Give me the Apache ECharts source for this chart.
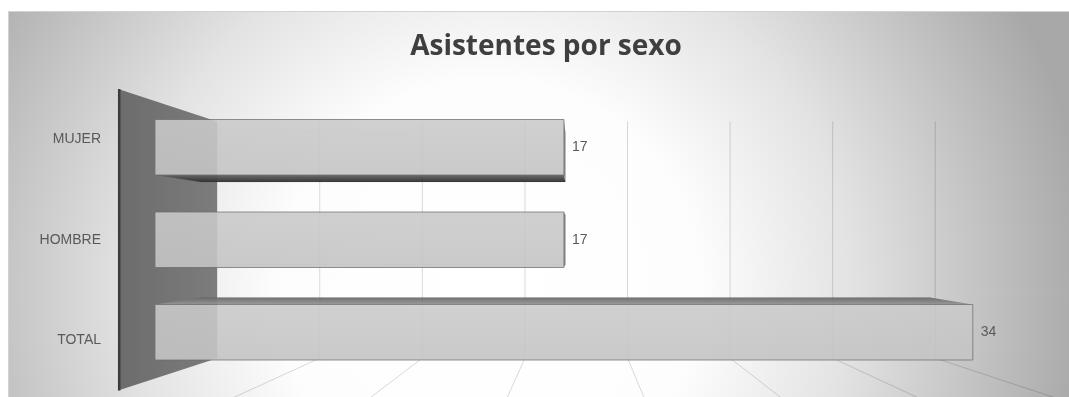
<!DOCTYPE html>
<html><head><meta charset="utf-8">
<script src="https://cdn.jsdelivr.net/npm/echarts@6/dist/echarts.min.js"></script>
<style>html,body{margin:0;padding:0;background:#fff}#c{width:1069px;height:397px}</style>
</head><body><div id="c"></div>
<script>
// ---- data ----
const titleText = 'Asistentes por sexo';
const categories = ['TOTAL', 'HOMBRE', 'MUJER'];
const values = [34, 17, 17];
const gridTicks = [0, 5, 10, 15, 20, 25, 30, 35];

// ---- perspective helpers (layout only) ----
const VP = [578, 240];
const S_WALL = 0.853, S_BAR_BACK = 0.892, S_FRONT = 1.087;
function proj(p, s) { return [VP[0] + (p[0] - VP[0]) * s, VP[1] + (p[1] - VP[1]) * s]; }

const chart = echarts.init(document.getElementById('c'), null, { renderer: 'canvas' });

function renderGrid(params, api) {
  const cs = params.coordSys;
  const t = api.value(0);
  const x = api.coord([t, 0])[0];
  const top = cs.y, bot = cs.y + cs.height;
  const bt = proj([x, top], S_WALL), bb = proj([x, bot], S_WALL);
  const ff = proj([x, bot], S_FRONT);
  const k = (402 - bb[1]) / (ff[1] - bb[1]);
  const end = [bb[0] + (ff[0] - bb[0]) * k, 402];
  const children = [];
  if (t === 0) {
    const ft = proj([x, top], S_FRONT);
    children.push({ type: 'polygon', shape: { points: [ft, bt, bb, ff] },
      style: { fill: new echarts.graphic.LinearGradient(0, 0, 1, 0, [
        { offset: 0, color: '#6c6c6c' }, { offset: 1, color: '#7c7c7c' }]) } });
    children.push({ type: 'line', shape: { x1: ft[0] + 1, y1: ft[1], x2: ff[0] + 1, y2: ff[1] },
      style: { stroke: '#3c3c3c', lineWidth: 2.5 } });
  } else {
    children.push({ type: 'line', shape: { x1: bt[0], y1: bt[1], x2: bb[0], y2: bb[1] },
      style: { stroke: 'rgba(0,0,0,0.15)', lineWidth: 1 } });
    children.push({ type: 'line', shape: { x1: bb[0], y1: bb[1], x2: end[0], y2: end[1] },
      style: { stroke: 'rgba(0,0,0,0.15)', lineWidth: 1 } });
  }
  return { type: 'group', children };
}

function renderBar(params, api) {
  const v = api.value(0), ci = api.value(1);
  const p0 = api.coord([0, ci]), p1 = api.coord([v, ci]);
  const h = api.size([0, 1])[1] * 0.6;
  const x0 = p0[0], x1 = p1[0], y0 = p0[1] - h / 2, y1 = p0[1] + h / 2;
  const fTL = [x0, y0], fTR = [x1, y0], fBR = [x1, y1], fBL = [x0, y1];
  const bTL = proj(fTL, S_BAR_BACK), bTR = proj(fTR, S_BAR_BACK),
        bBR = proj(fBR, S_BAR_BACK), bBL = proj(fBL, S_BAR_BACK);
  const children = [];
  children.push({ type: 'polygon', shape: { points: [bTL, bTR, bBR, bBL] },
    style: { fill: 'none', stroke: 'rgba(0,0,0,0.08)', lineWidth: 1 } });
  if (VP[1] < y0) {
    children.push({ type: 'polygon', shape: { points: [fTL, fTR, bTR, bTL] },
      style: { fill: new echarts.graphic.LinearGradient(0, 0, 0, 1, [
        { offset: 0, color: 'rgba(105,105,105,0.95)' }, { offset: 1, color: 'rgba(150,150,150,0.95)' }]) } });
  }
  if (VP[1] > y1) {
    children.push({ type: 'polygon', shape: { points: [fBL, fBR, bBR, bBL] },
      style: { fill: new echarts.graphic.LinearGradient(0, 0, 0, 1, [
        { offset: 0, color: 'rgba(100,100,100,0.95)' }, { offset: 1, color: 'rgba(45,45,45,0.95)' }]) } });
  }
  if (VP[0] > x1) {
    children.push({ type: 'polygon', shape: { points: [fTR, fBR, bBR, bTR] },
      style: { fill: 'rgba(120,120,120,0.9)' } });
  }
  children.push({ type: 'rect', shape: { x: x0, y: y0, width: x1 - x0, height: y1 - y0 },
    style: { fill: new echarts.graphic.LinearGradient(0, 0, 0, 1, [
      { offset: 0, color: 'rgba(202,202,202,0.88)' }, { offset: 1, color: 'rgba(196,196,196,0.9)' }]),
      stroke: 'rgba(110,110,110,0.75)', lineWidth: 1 } });
  children.push({ type: 'text', x: x1 + 8, y: p0[1],
    style: { text: String(v), fill: '#595959', fontSize: 14, fontFamily: 'Liberation Sans',
      verticalAlign: 'middle', align: 'left' } });
  return { type: 'group', children };
}

const option = {
  backgroundColor: '#ffffff',
  animation: false,
  title: {
    text: titleText, left: 541, top: 28, textAlign: 'center',
    textStyle: { fontFamily: 'Open Sans', fontWeight: 'bold', fontSize: 28, color: '#3f3f3f' }
  },
  graphic: [{
    type: 'rect', z: -10, silent: true,
    shape: { x: 8.5, y: 11.5, width: 1070, height: 400 },
    style: {
      fill: new echarts.graphic.RadialGradient(490, 290, 600, [
        { offset: 0, color: '#ffffff' }, { offset: 0.35, color: '#fdfdfd' },
        { offset: 0.6, color: '#e3e3e3' }, { offset: 0.8, color: '#c6c6c6' },
        { offset: 1, color: '#a8a8a8' }], true),
      stroke: '#d2d2d2', lineWidth: 1
    }
  }],
  grid: [
    { left: 155, top: 101, right: 0, height: 277.5 },
    { left: 155, top: 240 + (101 - 240) * 1.087, right: 0, height: 277.5 * 1.087 }
  ],
  xAxis: [
    { gridIndex: 0, type: 'value', min: 0, max: 38, show: false },
    { gridIndex: 1, type: 'value', min: 0, max: 38, show: false }
  ],
  yAxis: [
    { gridIndex: 0, type: 'category', data: categories, show: false },
    { gridIndex: 1, type: 'category', data: categories,
      axisLine: { show: false }, axisTick: { show: false }, splitLine: { show: false },
      axisLabel: { color: '#595959', fontSize: 14, fontFamily: 'Liberation Sans', margin: 54 } }
  ],
  series: [
    { type: 'custom', xAxisIndex: 0, yAxisIndex: 0, renderItem: renderGrid,
      data: gridTicks.map(t => [t, 0]), silent: true, z: 1 },
    { type: 'custom', xAxisIndex: 0, yAxisIndex: 0, renderItem: renderBar,
      data: values.map((v, i) => [v, i]), encode: { x: 0, y: 1 }, z: 3 }
  ]
};
chart.setOption(option);
</script>
</body></html>
